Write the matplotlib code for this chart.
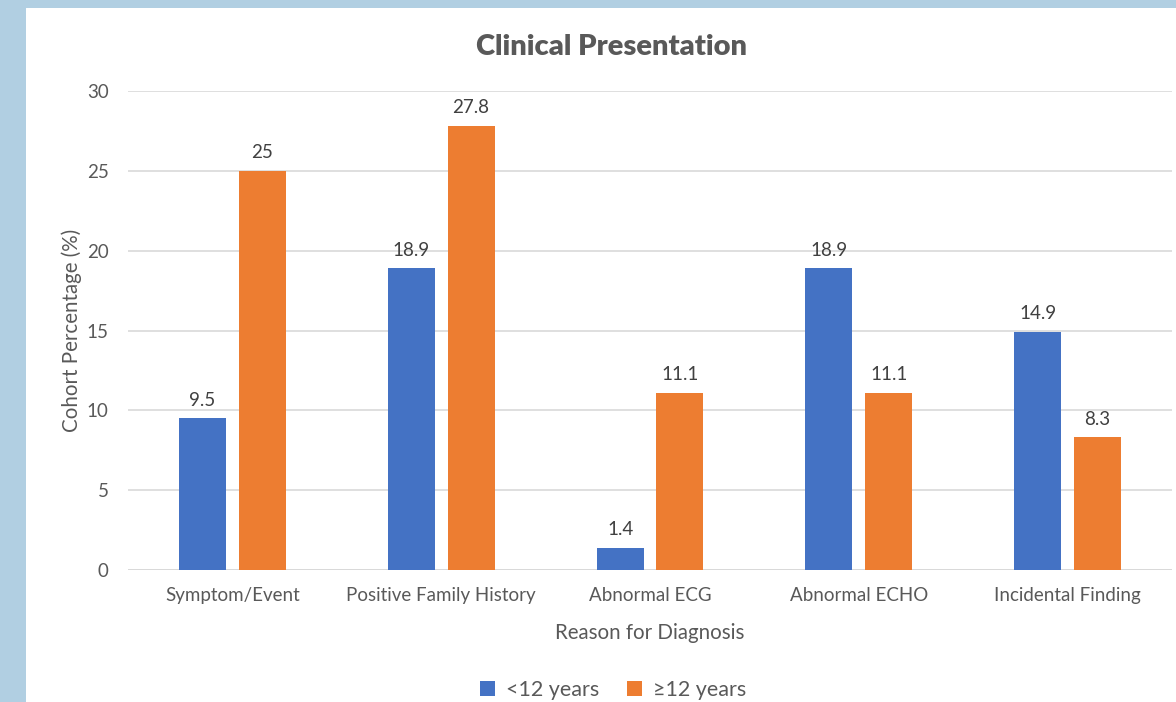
import numpy as np
import matplotlib
matplotlib.use("Agg")
import matplotlib.pyplot as plt

# Clinical presentation by age group
reasons = ["Symptom/Event", "Positive Family History", "Abnormal ECG",
           "Abnormal ECHO", "Incidental Finding"]
under_12 = [9.5, 18.9, 1.4, 18.9, 14.9]
over_12 = [25, 27.8, 11.1, 11.1, 8.3]
series_names = ["<12 years", "\u226512 years"]

BLUE = "#4472C4"
ORANGE = "#ED7D31"
TEXT = "#595959"
GRID = "#D9D9D9"

plt.rcParams["font.family"] = ["Lato", "DejaVu Sans"]

W, H = 1176, 702
fig = plt.figure(figsize=(W / 100, H / 100), dpi=100, facecolor="#B1CFE2")

# white chart panel on the poster background
panel = fig.add_axes([26 / W, 0, 1 - 26 / W, 1 - 8 / H], zorder=-1)
panel.set_axis_off()
panel.add_patch(plt.Rectangle((0, 0), 1, 1, color="white", transform=panel.transAxes))

ax = fig.add_axes([128 / W, 1 - 570 / H, (1172 - 128) / W, (570 - 91) / H])
ax.set_facecolor("none")

x = np.arange(len(reasons))
width = 0.225
off = 0.143
b1 = ax.bar(x - off, under_12, width, color=BLUE, label=series_names[0], zorder=3)
b2 = ax.bar(x + off, over_12, width, color=ORANGE, label=series_names[1], zorder=3)

for bars, vals in ((b1, under_12), (b2, over_12)):
    for rect, v in zip(bars, vals):
        ax.annotate(f"{v:g}", (rect.get_x() + rect.get_width() / 2, v),
                    xytext=(0, 7), textcoords="offset points",
                    ha="center", va="bottom", fontsize=13.5, color="#404040")

ax.set_xlim(-0.5, len(reasons) - 0.5)
ax.set_ylim(0, 30)
ax.set_yticks(range(0, 31, 5))
ax.yaxis.grid(True, color=GRID, linewidth=1.2, zorder=0)
ax.set_axisbelow(True)
for s in ax.spines.values():
    s.set_visible(False)
ax.axhline(0, color=GRID, linewidth=1.4, zorder=2)
ax.tick_params(length=0, labelsize=13.5, colors=TEXT)
ax.tick_params(axis="y", pad=14)
ax.tick_params(axis="x", pad=12)
ax.set_xticks(x)
ax.set_xticklabels(reasons)

ax.set_xlabel("Reason for Diagnosis", fontsize=14.8, color=TEXT, labelpad=14)
ax.set_ylabel("Cohort Percentage (%)", fontsize=14.8, color=TEXT, labelpad=3)

fig.text(611 / W, 1 - 47 / H, "Clinical Presentation", ha="center",
         va="center", fontsize=21, fontweight="heavy", color=TEXT)

fig.legend(handles=[b1, b2], labels=series_names, loc="center",
           bbox_to_anchor=(613 / W, 1 - 690 / H), ncol=2, frameon=False,
           fontsize=15.5, labelcolor=TEXT, handlelength=0.7, handleheight=0.7,
           handletextpad=0.5, columnspacing=1.3)

fig.savefig("out.png", dpi=100, facecolor=fig.get_facecolor())
